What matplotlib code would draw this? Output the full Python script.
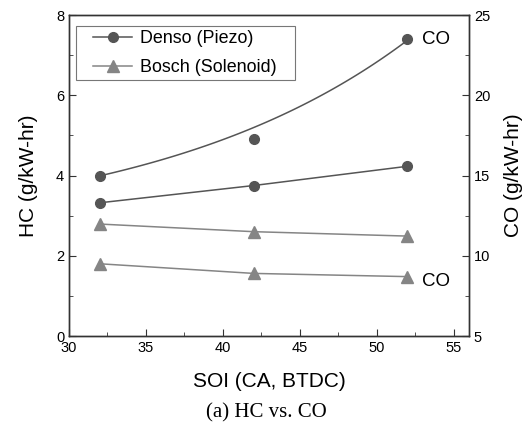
import numpy as np
import matplotlib
matplotlib.use("Agg")
import matplotlib.pyplot as plt
from matplotlib.patches import Rectangle
from matplotlib.ticker import MultipleLocator

plt.rcParams['font.family'] = ['Liberation Sans', 'DejaVu Sans']

soi = [32, 42, 52]
denso_hc = [3.32, 3.75, 4.23]
denso_co = [15.0, 17.3, 23.5]
bosch_hc = [2.79, 2.60, 2.49]
bosch_co = [9.5, 8.9, 8.7]

dark = '#555555'
light = '#858585'


def exp_fit(x, y, offset, w):
    # y = offset + exp(a + b*x), weighted least squares in log space
    x = np.asarray(x, float)
    y = np.asarray(y, float)
    b, a = np.polyfit(x, np.log(y - offset), 1, w=w)
    xs = np.linspace(x.min(), x.max(), 100)
    return xs, offset + np.exp(a + b * xs)


fig = plt.figure(figsize=(5.32, 4.25), dpi=100)
ax = fig.add_axes([0.1297, 0.2094, 0.7519, 0.7553])
ax2 = ax.twinx()

# HC on left axis
ax.plot(soi, denso_hc, '-o', color=dark, ms=7, lw=1.1)
ax.plot(soi, bosch_hc, '-^', color=light, ms=8, lw=1.1)

# CO on right axis
xs, ys = exp_fit(soi, denso_co, 11.25, [3, 1, 3])
ax2.plot(xs, ys, color=dark, lw=1.1)
ax2.plot(soi, denso_co, 'o', color=dark, ms=7)
ax2.plot(soi, bosch_co, '-^', color=light, ms=8, lw=1.1)

ax2.text(52.95, denso_co[-1], 'CO', fontsize=13.5, va='center', ha='left')
ax2.text(52.95, bosch_co[-1] - 0.3, 'CO', fontsize=13.5, va='center', ha='left')

ax.set_xlim(30, 56)
ax.set_ylim(0, 8)
ax2.set_ylim(5, 25)

ax.xaxis.set_major_locator(MultipleLocator(5))
ax.xaxis.set_minor_locator(MultipleLocator(2.5))
ax.yaxis.set_major_locator(MultipleLocator(2))
ax.yaxis.set_minor_locator(MultipleLocator(1))
ax2.yaxis.set_major_locator(MultipleLocator(5))
ax2.yaxis.set_minor_locator(MultipleLocator(2.5))

for a in (ax, ax2):
    for s in a.spines.values():
        s.set_color('#333333')
        s.set_linewidth(1.0)
ax.tick_params(which='both', direction='in', labelsize=10.5, colors='#333333',
               labelcolor='black', top=False, right=False)
ax.tick_params(which='major', length=5)
ax.tick_params(which='minor', length=3)
ax2.tick_params(which='both', direction='in', labelsize=10.5, colors='#333333',
                labelcolor='black')
ax2.tick_params(which='major', length=5)
ax2.tick_params(which='minor', length=3)

ax.set_xlabel('SOI (CA, BTDC)', fontsize=15, labelpad=12)
ax.set_ylabel('HC (g/kW-hr)', fontsize=15, labelpad=13)
ax2.set_ylabel('CO (g/kW-hr)', fontsize=15, labelpad=10)

# legend: frame drawn separately so the side padding can be wider than the top
h1, = ax.plot([], [], '-o', color=dark, ms=7, lw=1.1)
h2, = ax.plot([], [], '-^', color=light, ms=8, lw=1.1)
leg = ax2.legend([h1, h2], ['Denso (Piezo)', 'Bosch (Solenoid)'], loc='upper left',
                 bbox_to_anchor=(0.06, 0.952), borderaxespad=0, borderpad=0,
                 fontsize=12.9, frameon=False, handlelength=2.2,
                 handletextpad=0.4, labelspacing=0.67)
ax2.add_patch(Rectangle((0.0175, 0.7975), 0.5475, 0.1682, transform=ax2.transAxes,
                        facecolor='none', edgecolor='#777777', lw=0.8, zorder=5))

fig.text(0.5, 0.028, '(a) HC vs. CO', ha='center', va='center', fontsize=15,
         family=['Liberation Serif', 'DejaVu Serif'])

fig.savefig('out.png', dpi=100)
